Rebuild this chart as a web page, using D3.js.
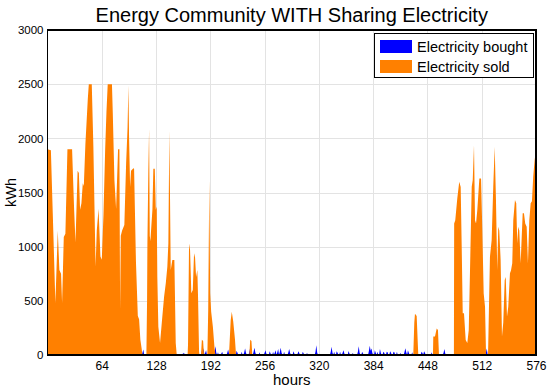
<!DOCTYPE html>
<html>
<head>
<meta charset="utf-8">
<script src="https://cdn.jsdelivr.net/npm/d3@7/dist/d3.min.js"></script>
<style>
  body { margin: 0; background: #fff; }
  text { font-family: "Liberation Sans", Arial, sans-serif; fill: #000; }
</style>
</head>
<body>
<div id="chart"></div>
<script>
// electricity sold as (hour, kWh) breakpoints
var soldHours = [0,4,6.2,9.3,12.1,14,16,17.2,19.2,21.1,23.5,29,31.4,33,35.5,37,38.4,40,41.6,42.8,44.7,47.5,48.7,52.2,
  54.1,56.7,58.1,60.2,62.4,64,66,68,69.5,71,76,77,78.9,80.9,83.2,84.8,85.6,86.4,88,90.6,92.7,94.4,95.4,96.2,97.4,98.5,
  101.3,102.1,104.3,106.5,108,109.5,111,112,116.6,117.4,117.8,118.9,119.8,120.6,121.3,123.7,124.8,126.5,127.7,128.8,
  129.5,130.7,132.7,135.4,137.5,139.5,141.3,142.5,143.7,145.3,147.2,149.6,151.2,152.4,165.2,165.7,166.9,168.1,169.6,
  171.3,172.8,174,175.2,176.7,177.5,178.7,179.3,181,182,183.5,184.5,188.5,189.5,190.8,191.8,193,195,197,198,214,216,
  217.3,219,221,222.3,238,239,240.5,241.5,431.3,432.5,433.3,435.3,436.5,437.2,454.5,454.9,456.9,458.9,460.4,461.6,
  479.2,479.5,480.8,483.2,485.5,487.2,488.4,489.6,491.1,493.1,495,496.7,498.2,500.2,501.4,502.9,504.1,505.3,506.8,
  509.2,511.2,512.7,514.3,515.9,517.1,519.4,519.7,521.7,523.7,525.6,527.3,528.8,530.3,531.5,532.7,534.3,535.9,537.4,
  539.1,540.3,541.8,543.3,545.3,546.5,548,549.2,551.2,552.7,553.9,555.1,556.3,557.9,560.3,561.8,563.3,565,566.5,
  568.1,569.7,571.2,572.7,574.4,576];
var soldValues = [1900,1890,1310,480,1150,785,750,480,1090,1120,1900,1900,1340,1040,1700,1680,1340,1400,1585,1560,1950,2360,2500,2500,
  1920,815,1150,1350,910,880,1300,1900,2240,2500,2500,2230,1615,1350,1900,1900,415,1100,1150,1200,1770,2100,2490,2000,1550,1700,
  1725,1720,860,360,330,140,60,0,0,500,1030,1700,2090,1100,1050,1340,1720,1720,1340,1370,
  720,260,110,355,540,665,815,1030,2075,785,877,877,110,0,0,100,1030,970,570,
  600,940,900,720,785,540,30,0,0,140,130,0,0,415,1615,570,400,260,60,0,0,320,
  400,310,150,0,0,140,130,0,0,300,380,360,130,0,0,170,170,245,230,0,
  0,1215,1245,1446,1600,1550,1000,385,385,138,110,230,785,1553,1615,1938,1245,1215,1338,
  1630,1630,1154,570,446,0,0,100,907,1060,1553,1923,1430,785,1185,1150,877,170,300,
  692,720,354,446,754,780,846,1245,1430,1400,1030,1185,1150,846,1308,1308,1215,1185,846,
  1245,1400,1420,1645,1800,1900];

// electricity bought: non-zero hours only, every other hour is 0
var boughtHours = [112,113,152,160,161,162,182,183,184,186,187,197,198,199,201,205,206,212,213,214,223,224,229,232,233,234,
  238,239,240,243,244,245,250,256,257,258,262,263,266,268,269,271,272,274,275,276,279,284,285,286,290,291,295,296,297,
  301,302,306,316,317,318,334,335,336,338,341,342,345,348,349,350,355,356,360,366,367,368,371,372,379,380,381,382,383,
  386,387,389,392,393,396,397,400,401,404,405,408,409,412,416,421,422,423,425,426,430,441,442,444,445,453,467,468,469,
  517,518];
var boughtValues = [20,50,12,20,10,15,40,30,62,20,45,30,80,20,25,15,30,20,50,15,40,20,30,25,60,20,
  30,65,20,30,68,25,25,20,45,15,35,15,30,20,45,25,55,30,68,20,30,25,55,20,35,15,15,35,15,
  30,15,20,30,90,20,30,77,20,30,35,20,30,20,45,15,38,15,20,30,80,20,30,15,40,86,40,60,20,
  45,20,30,55,20,30,20,30,25,35,20,30,25,30,20,30,62,25,45,20,25,30,20,35,20,25,20,55,15,
  20,60];

var xTicks = [64,128,192,256,320,384,448,512,576];
var yTicks = [0,500,1000,1500,2000,2500,3000];
var seriesNames = ["Electricity bought", "Electricity sold"];
var seriesColors = ["#0000ff", "#ff8000"];
var titleText = "Energy Community WITH Sharing Electricity";

var W = 550, H = 390;
var margin = {top: 30, right: 14, bottom: 35, left: 47.5};
var width = W - margin.left - margin.right,
    height = H - margin.top - margin.bottom;

var svg = d3.select("#chart").append("svg")
    .attr("width", W).attr("height", H);
var g = svg.append("g")
    .attr("transform", "translate(" + margin.left + "," + margin.top + ")");

var x = d3.scaleLinear().domain([0, 576]).range([0, width]);
var y = d3.scaleLinear().domain([0, 3000]).range([height, 0]);

// grid lines
g.append("g")
  .call(d3.axisBottom(x).tickValues(xTicks).tickSize(height).tickFormat(""))
  .call(function(a) { a.select(".domain").remove(); })
  .selectAll("line").attr("stroke", "#e3e3e3").attr("shape-rendering", "crispEdges");
g.append("g")
  .call(d3.axisLeft(y).tickValues(yTicks).tickSize(-width).tickFormat(""))
  .call(function(a) { a.select(".domain").remove(); })
  .selectAll("line").attr("stroke", "#e3e3e3").attr("shape-rendering", "crispEdges");

// data
var sold = soldHours.map(function(h, i) { return {h: h, v: soldValues[i]}; });
var boughtByHour = {};
boughtHours.forEach(function(h, i) { boughtByHour[h] = boughtValues[i]; });
var bought = d3.range(0, 577).map(function(h) { return {h: h, v: boughtByHour[h] || 0}; });

var area = d3.area()
  .x(function(d) { return x(d.h); })
  .y0(height)
  .y1(function(d) { return y(d.v); });

g.append("clipPath").attr("id", "clip")
  .append("rect").attr("width", width).attr("height", height);

var plot = g.append("g").attr("clip-path", "url(#clip)");
plot.append("path").datum(bought).attr("fill", seriesColors[0]).attr("d", area);
plot.append("path").datum(sold).attr("fill", seriesColors[1]).attr("d", area);

// axes and box
var xAxis = g.append("g")
  .attr("transform", "translate(0," + height + ")")
  .call(d3.axisBottom(x).tickValues(xTicks).tickSize(0).tickPadding(6));
xAxis.selectAll("text").style("font-size", "12px");
var yAxis = g.append("g")
  .call(d3.axisLeft(y).tickValues(yTicks).tickSize(0).tickPadding(4).tickFormat(d3.format("d")));
yAxis.selectAll("text").style("font-size", "11.5px");
g.selectAll(".domain").remove();

g.append("rect")
  .attr("width", width).attr("height", height)
  .attr("fill", "none").attr("stroke", "#000").attr("stroke-width", 1.2)
  .attr("shape-rendering", "crispEdges");

// title and axis labels
svg.append("text")
  .attr("x", margin.left + width / 2).attr("y", 22)
  .attr("text-anchor", "middle").style("font-size", "20px")
  .text(titleText);
svg.append("text")
  .attr("x", margin.left + width / 2).attr("y", 385)
  .attr("text-anchor", "middle").style("font-size", "15px")
  .text("hours");
svg.append("text")
  .attr("transform", "translate(16," + (margin.top + height / 2) + ") rotate(-90)")
  .attr("text-anchor", "middle").style("font-size", "14.5px")
  .text("kWh");

// legend
var lg = svg.append("g").attr("transform", "translate(374,33)");
lg.append("rect")
  .attr("width", 159).attr("height", 44)
  .attr("fill", "#fff").attr("stroke", "#000").attr("stroke-width", 1)
  .attr("shape-rendering", "crispEdges");
seriesNames.forEach(function(name, i) {
  lg.append("rect")
    .attr("x", 6).attr("y", 7 + i * 20)
    .attr("width", 32).attr("height", 13)
    .attr("fill", seriesColors[i]);
  lg.append("text")
    .attr("x", 43).attr("y", 19 + i * 20)
    .style("font-size", "14.5px")
    .text(name);
});
</script>
</body>
</html>
